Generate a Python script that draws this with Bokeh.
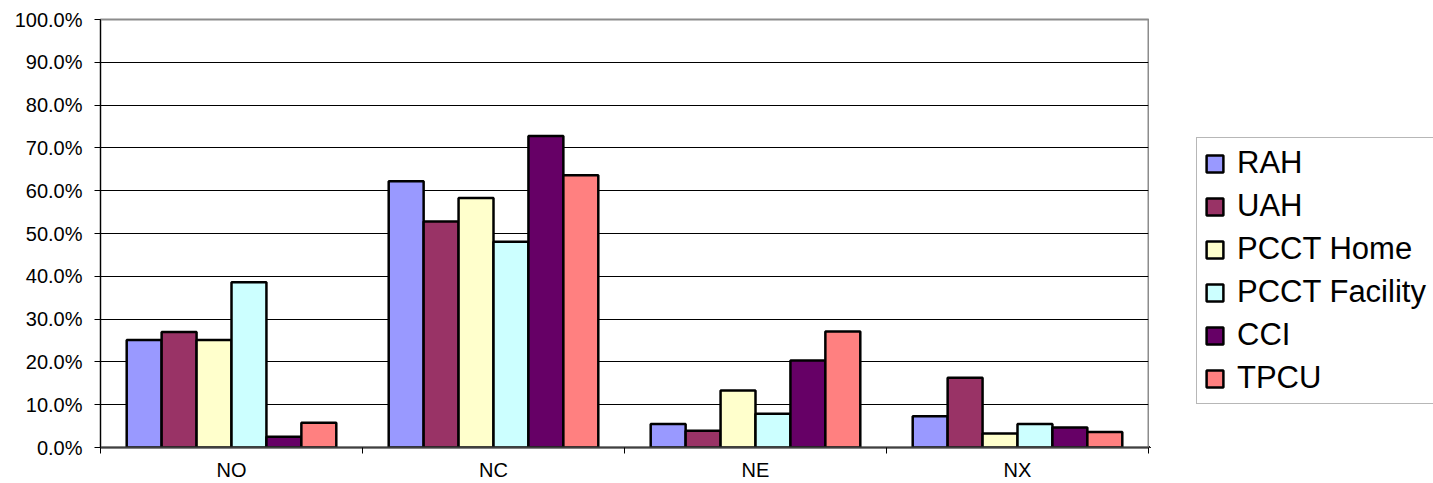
import numpy as np
from bokeh.plotting import figure
from bokeh.layouts import row
from bokeh.models import (ColumnDataSource, FixedTicker, NumeralTickFormatter,
                          Legend, LegendItem, Range1d)
from bokeh.embed import file_html
from bokeh.resources import INLINE

# Share of each outcome group by service
categories = ["NO", "NC", "NE", "NX"]
series_names = ["RAH", "UAH", "PCCT Home", "PCCT Facility", "CCI", "TPCU"]
rah = [0.251, 0.622, 0.055, 0.073]
uah = [0.270, 0.528, 0.039, 0.163]
pcct_home = [0.251, 0.583, 0.133, 0.033]
pcct_facility = [0.386, 0.481, 0.079, 0.055]
cci = [0.025, 0.728, 0.203, 0.047]
tpcu = [0.058, 0.636, 0.271, 0.036]
series_values = [rah, uah, pcct_home, pcct_facility, cci, tpcu]
colors = ["#9999FF", "#993366", "#FFFFCC", "#CCFFFF", "#660066", "#FF8080"]
y_ticks = [0.0, 0.1, 0.2, 0.3, 0.4, 0.5, 0.6, 0.7, 0.8, 0.9, 1.0]

FONT = "Liberation Sans"

p = figure(width=1149, height=483, output_backend="svg", toolbar_location=None,
           x_range=Range1d(0, len(categories)), y_range=Range1d(0, 1),
           min_border_left=100, min_border_right=1,
           min_border_top=19, min_border_bottom=36)
p.background_fill_color = "white"
p.border_fill_color = "white"
p.outline_line_color = "#8c8c8c"
p.outline_line_width = 2

# clustered bars: six bars filling 80% of each category slot
n = len(series_names)
bar_w = 0.8 / n
centers = np.arange(len(categories)) + 0.5
for j, (name, vals, col) in enumerate(zip(series_names, series_values, colors)):
    offset = -0.4 + bar_w * (j + 0.5)
    src = ColumnDataSource(dict(x=centers + offset, top=vals))
    p.vbar(x="x", top="top", bottom=0, width=bar_w, source=src,
           fill_color=col, line_color="black", line_width=2.5)

# y axis in percent
p.yaxis.ticker = FixedTicker(ticks=y_ticks)
p.yaxis.formatter = NumeralTickFormatter(format="0.0%")
p.yaxis.major_tick_out = 6
p.yaxis.major_tick_in = 0
p.yaxis.minor_tick_out = 0
p.yaxis.minor_tick_in = 0
p.yaxis.axis_line_color = "black"
p.yaxis.major_tick_line_color = "black"
p.yaxis.major_label_text_font = FONT
p.yaxis.major_label_text_font_size = "20px"
p.yaxis.major_label_text_color = "black"
p.yaxis.major_label_standoff = 12

# x axis: labels at slot centers, tick marks at slot boundaries
p.xaxis.ticker = FixedTicker(ticks=list(centers),
                             minor_ticks=list(range(len(categories) + 1)))
p.xaxis.major_label_overrides = {float(c): lab for c, lab in zip(centers, categories)}
p.xaxis.major_tick_out = 0
p.xaxis.major_tick_in = 0
p.xaxis.minor_tick_out = 6
p.xaxis.minor_tick_in = 0
p.xaxis.minor_tick_line_color = "black"
p.xaxis.axis_line_color = "#404040"
p.xaxis.axis_line_width = 2
p.xaxis.major_label_text_font = FONT
p.xaxis.major_label_text_font_size = "20px"
p.xaxis.major_label_text_color = "black"
p.xaxis.major_label_standoff = 5

p.xgrid.visible = False
p.ygrid.ticker = FixedTicker(ticks=y_ticks)
p.ygrid.grid_line_color = "black"
p.ygrid.grid_line_width = 1

# side panel holding the series key; swatch renderers sit outside its range
key = figure(width=284, height=483, output_backend="svg", toolbar_location=None,
             x_range=Range1d(0, 1), y_range=Range1d(0, 1),
             x_axis_location=None, y_axis_location=None,
             min_border=0)
key.outline_line_color = None
key.grid.visible = False
key.background_fill_color = "white"
key.border_fill_color = "white"
items = []
for name, col in zip(series_names, colors):
    swatch = key.vbar(x=[-5], top=[-4], bottom=-5, width=0.5, fill_color=col,
                      line_color="black", line_width=2.5)
    items.append(LegendItem(label=name, renderers=[swatch]))

legend = Legend(items=items, location=(47, 43), orientation="vertical",
                label_text_font=FONT, label_text_font_size="31px",
                label_text_color="black", glyph_width=21, glyph_height=21,
                label_standoff=12, spacing=7, padding=7, margin=0,
                border_line_color="#707070", border_line_width=1.5,
                background_fill_color="white", background_fill_alpha=1)
key.add_layout(legend, "center")

layout = row(p, key, spacing=0)
open("out.html", "w").write(file_html(layout, INLINE))
